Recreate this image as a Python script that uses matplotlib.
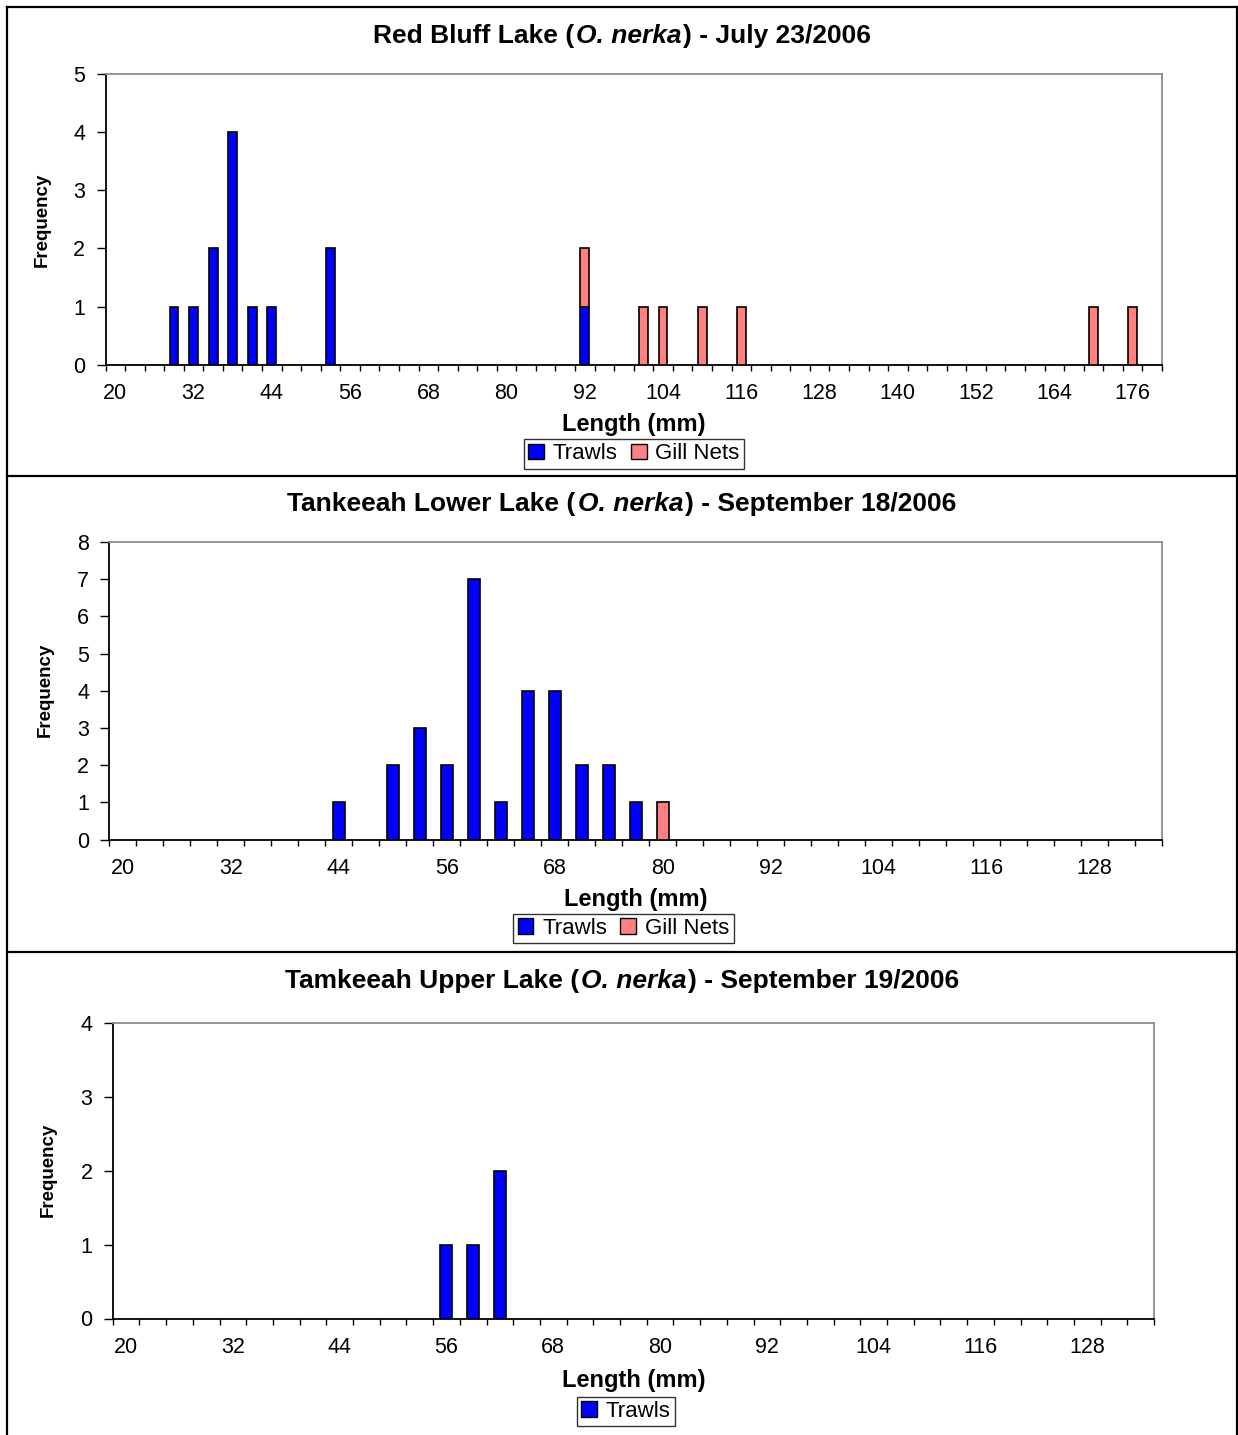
import numpy as np
import matplotlib
matplotlib.use("Agg")
import matplotlib.pyplot as plt
from matplotlib.patches import Rectangle
from matplotlib.lines import Line2D

plt.rcParams["font.family"] = ["Liberation Sans", "DejaVu Sans"]

# ---- data: length-frequency counts in 3 mm length classes ----
BIN = 3

rb_bins = np.arange(20, 180, BIN)            # 20 .. 179 mm
rb_trawl_len = [29, 32, 35, 38, 41, 44, 53, 92]
rb_trawl_n = [1, 1, 2, 4, 1, 1, 2, 1]
rb_gill_len = [92, 101, 104, 110, 116, 170, 176]
rb_gill_n = [1, 1, 1, 1, 1, 1, 1]

tl_bins = np.arange(20, 135, BIN)            # 20 .. 134 mm
tl_trawl_len = [44, 50, 53, 56, 59, 62, 65, 68, 71, 74, 77]
tl_trawl_n = [1, 2, 3, 2, 7, 1, 4, 4, 2, 2, 1]
tl_gill_len = [80]
tl_gill_n = [1]

tu_bins = np.arange(20, 135, BIN)            # 20 .. 134 mm
tu_trawl_len = [56, 59, 62]
tu_trawl_n = [1, 1, 2]

TRAWL_COLOR = "#0000FF"
GILL_COLOR = "#FF8080"

TICK_SIZE = 15.5
TITLE_SIZE = 19
XLABEL_SIZE = 17
YLABEL_SIZE = 13.5
LEGEND_SIZE = 16

W, H = 1238, 1435
fig = plt.figure(figsize=(W / 100, H / 100), dpi=100)


def fx(x):
    return x / W


def fy(y):
    return 1 - y / H


def axes_box(x0, y0, x1, y1):
    return [fx(x0), fy(y1), fx(x1) - fx(x0), fy(y0) - fy(y1)]


def rich_title(xc, yc, parts, size):
    renderer = fig.canvas.get_renderer()
    texts, widths = [], []
    for s, style in parts:
        t = fig.text(0, fy(yc), s, fontsize=size, fontweight="bold",
                     fontstyle=style, ha="left", va="center")
        texts.append(t)
        widths.append(t.get_window_extent(renderer).width)
    gap = 2.0
    total = sum(widths) + gap * (len(parts) - 1)
    x = xc - total / 2
    for t, w in zip(texts, widths):
        t.set_x(fx(x))
        x += w + gap


def panel(box, bins, ymax, trawl_len, trawl_n, gill_len, gill_n,
          title_parts, title_y, xlabel_pos, ylabel_pos, legend_pos):
    ax = fig.add_axes(axes_box(*box))
    width = BIN * 0.45
    ax.bar(trawl_len, trawl_n, width=width, color=TRAWL_COLOR,
           edgecolor="black", linewidth=1.2, label="Trawls", zorder=3)
    handles = [Rectangle((0, 0), 1, 1, facecolor=TRAWL_COLOR,
                         edgecolor="black", linewidth=1.0)]
    labels = ["Trawls"]
    if gill_len is not None:
        counts = dict(zip(trawl_len, trawl_n))
        bottoms = [counts.get(v, 0) for v in gill_len]
        ax.bar(gill_len, gill_n, width=width, bottom=bottoms,
               color=GILL_COLOR, edgecolor="black", linewidth=1.2,
               label="Gill Nets", zorder=3)
        handles.append(Rectangle((0, 0), 1, 1, facecolor=GILL_COLOR,
                                 edgecolor="black", linewidth=1.0))
        labels.append("Gill Nets")

    ax.set_xlim(bins[0] - BIN / 2, bins[-1] + BIN / 2)
    ax.set_ylim(0, ymax)

    # tick marks between length classes, labels on every 4th class
    ax.set_xticks(np.arange(bins[0] - BIN / 2, bins[-1] + BIN, BIN))
    ax.set_xticklabels([])
    ax.set_xticks(bins[::4], minor=True)
    ax.set_xticklabels([str(v) for v in bins[::4]], minor=True,
                       fontsize=TICK_SIZE)
    ax.tick_params(axis="x", which="major", direction="out", length=4.5,
                   width=1.0, color="black")
    ax.tick_params(axis="x", which="minor", length=0, pad=13)
    ax.set_yticks(np.arange(0, ymax + 1, 1))
    ax.tick_params(axis="y", direction="out", length=6.5, width=1.0,
                   labelsize=TICK_SIZE, pad=8)

    for side in ("left", "bottom"):
        ax.spines[side].set_color("black")
        ax.spines[side].set_linewidth(1.3)
    for side in ("top", "right"):
        ax.spines[side].set_color("#8c8c8c")
        ax.spines[side].set_linewidth(1.3)

    rich_title(622, title_y, title_parts, TITLE_SIZE)
    fig.text(fx(xlabel_pos[0]), fy(xlabel_pos[1]), "Length (mm)",
             fontsize=XLABEL_SIZE, fontweight="bold", ha="center",
             va="center")
    fig.text(fx(ylabel_pos[0]), fy(ylabel_pos[1]), "Frequency",
             fontsize=YLABEL_SIZE, fontweight="bold", rotation=90,
             ha="center", va="center")
    leg = fig.legend(handles, labels, loc="center",
                     bbox_to_anchor=(fx(legend_pos[0]), fy(legend_pos[1])),
                     ncol=len(labels), fontsize=LEGEND_SIZE, frameon=True,
                     fancybox=False, shadow=False, borderpad=0.2,
                     handlelength=0.7, handleheight=0.7,
                     handletextpad=0.4, columnspacing=0.6,
                     borderaxespad=0)
    leg.get_frame().set_edgecolor("black")
    leg.get_frame().set_linewidth(1.0)
    return ax


panel((105.5, 73.5, 1162, 365), rb_bins, 5,
      rb_trawl_len, rb_trawl_n, rb_gill_len, rb_gill_n,
      [("Red Bluff Lake (", "normal"), ("O. nerka", "italic"),
       (") - July 23/2006", "normal")],
      36, (634, 424), (42, 220), (634, 454))

panel((109.3, 542, 1162, 839.5), tl_bins, 8,
      tl_trawl_len, tl_trawl_n, tl_gill_len, tl_gill_n,
      [("Tankeeah Lower Lake (", "normal"), ("O. nerka", "italic"),
       (") - September 18/2006", "normal")],
      504, (636, 900), (45, 690), (623.5, 928.5))

panel((112.7, 1023, 1154, 1318.5), tu_bins, 4,
      tu_trawl_len, tu_trawl_n, None, None,
      [("Tamkeeah Upper Lake (", "normal"), ("O. nerka", "italic"),
       (") - September 19/2006", "normal")],
      981, (634, 1381), (48, 1170), (626, 1411.5))

# outer frame and panel separators
frame_lines = [
    ((7, 7), (7, 1435)),
    ((1237, 1237), (7, 1435)),
    ((7, 1237), (7, 7)),
    ((7, 1237), (475.5, 475.5)),
    ((7, 1237), (952, 952)),
]
for xs, ys in frame_lines:
    fig.add_artist(Line2D([fx(v) for v in xs], [fy(v) for v in ys],
                          color="black", linewidth=1.6))

fig.savefig("out.png", dpi=100)
